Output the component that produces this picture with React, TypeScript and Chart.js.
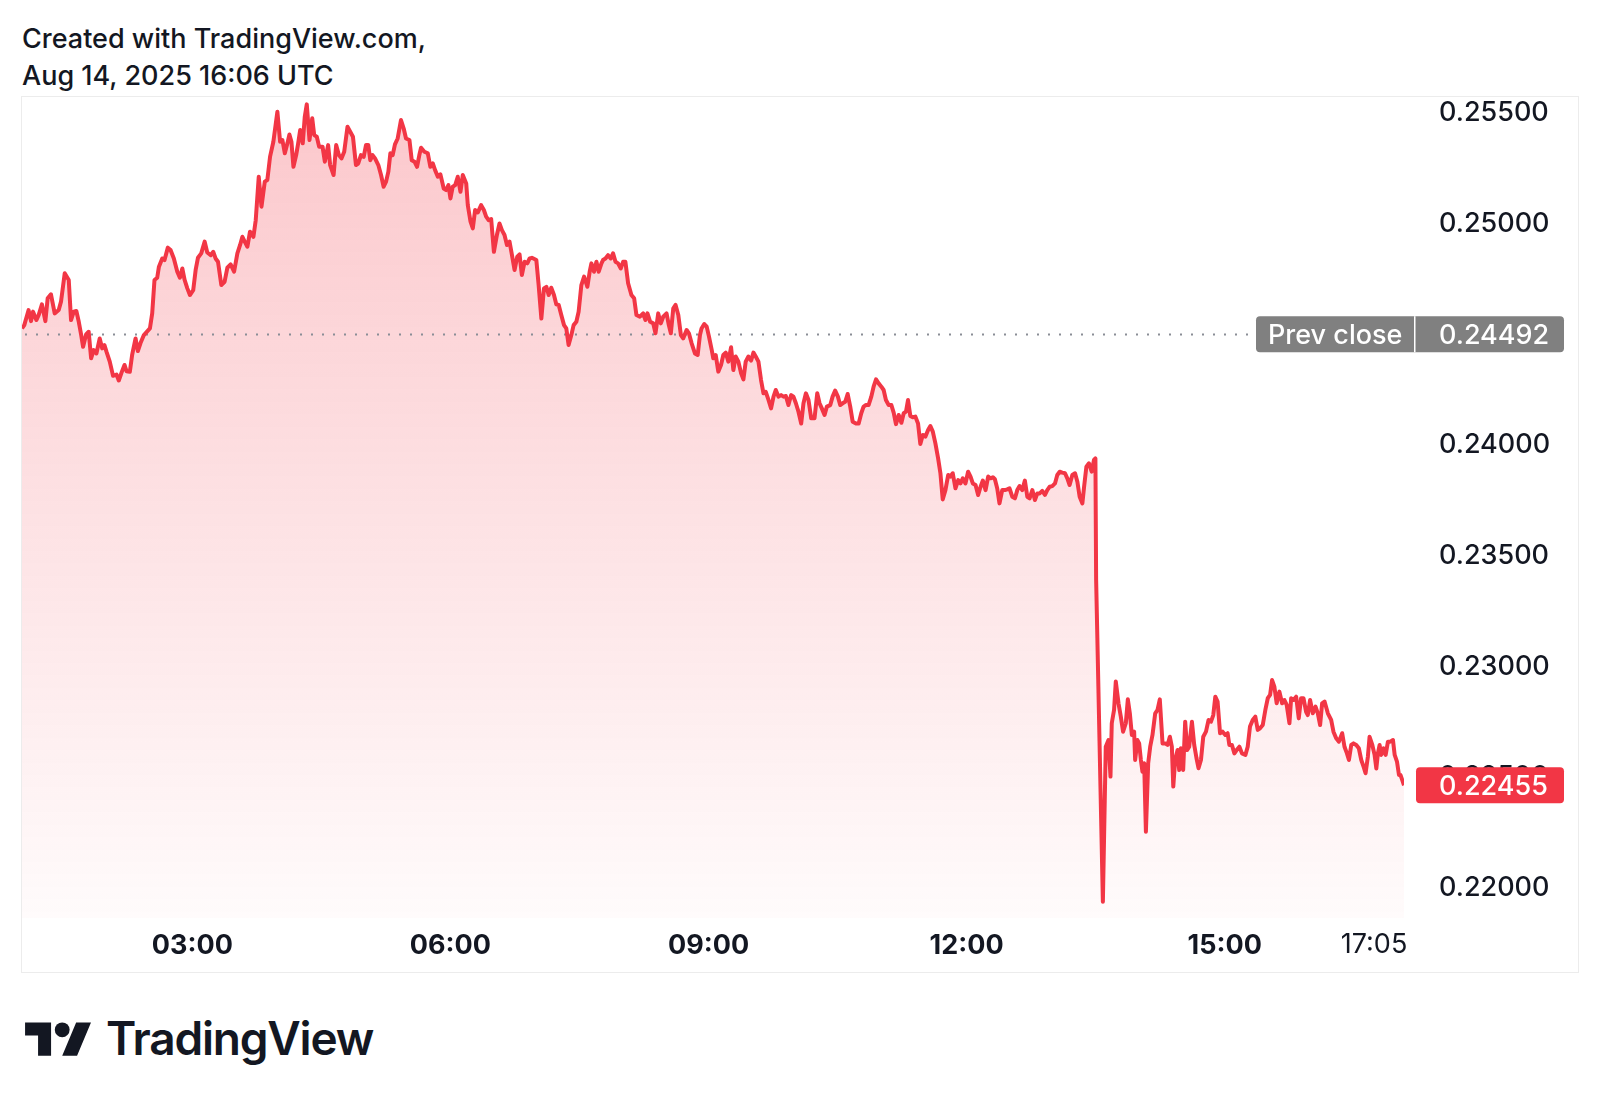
import React, { useEffect, useRef } from "react";
import { Chart, registerables } from "chart.js";

Chart.register(...registerables);

// minutes of the day and prices
const earlyTimes = [61.2,62.8,65.8,67.5,68.9,71.2,72.8,75.1,77.5,79.1,81.4,84.0,86.8,88.4,91.0,93.8,95.4,97.3,99.1,100.8,102.4,103.8,105.9,107.7,109.4,111.2,113.1,115.4,117.1,118.7,120.1,122.4,124.7,127.1,128.7,131.0,132.7,134.1,136.4,138.0,140.4,142.0,143.8,146.2,150.4,152.0,153.6,155.5,156.7,159.0,160.6,162.9,164.8,167.1,169.5,171.3,173.0,174.6,176.5,178.3,180.6,182.3,183.9,186.2,188.6,190.4,192.8,194.6,196.2,197.9,200.2,202.5,204.4,206.7,209.1,211.4,213.3,214.9,216.5,218.4,220.2,222.6,224.2,226.3,228.2,230.5,232.3,234.2,236.5,238.2,239.3,241.2,242.8,244.5,246.3,247.7,249.1,250.5,252.4,253.8,255.2,257.0,258.4,259.8,261.7,263.6,265.0,266.8,268.4,270.8,272.4,274.7,276.1,278.5,280.3,282.2,284.0,285.9,288.2,290.1,292.0,294.1,295.7,297.6];
const earlyPrices = [0.24518,0.24533,0.24601,0.24551,0.24594,0.24556,0.24578,0.24627,0.24551,0.24654,0.24672,0.24586,0.24601,0.24639,0.24767,0.24737,0.24556,0.24594,0.24597,0.24548,0.24491,0.24435,0.24491,0.24503,0.24383,0.24420,0.24405,0.24473,0.24428,0.24443,0.24413,0.24368,0.24304,0.24310,0.24283,0.24325,0.24353,0.24325,0.24322,0.24398,0.24473,0.24416,0.24451,0.24488,0.24518,0.24586,0.24737,0.24747,0.24797,0.24834,0.24827,0.24883,0.24872,0.24834,0.24774,0.24747,0.24789,0.24737,0.24699,0.24669,0.24691,0.24782,0.24837,0.24857,0.24910,0.24861,0.24849,0.24864,0.24834,0.24819,0.24714,0.24729,0.24792,0.24807,0.24774,0.24857,0.24895,0.24932,0.24910,0.24887,0.24955,0.24932,0.25007,0.25203,0.25068,0.25181,0.25188,0.25294,0.25361,0.25444,0.25497,0.25361,0.25369,0.25309,0.25354,0.25394,0.25361,0.25248,0.25301,0.25354,0.25414,0.25354,0.25474,0.25530,0.25369,0.25467,0.25391,0.25384,0.25339,0.25339,0.25271,0.25346,0.25256,0.25211,0.25346,0.25301,0.25286,0.25316,0.25429,0.25406,0.25384,0.25256,0.25263,0.25301];

const morningTimes = [299.5,301.1,302.7,304.1,305.7,307.4,309.7,311.6,313.4,315.1,316.7,318.1,319.7,321.3,323.2,325.5,327.4,329.0,331.4,333.0,334.9,336.7,338.3,339.5,341.8,344.2,346.0,347.7,349.3,351.2,353.0,355.3,357.0,358.6,360.0,361.6,363.3,365.1,367.0,368.6,371.0,372.1,374.0,375.6,377.2,379.1,381.4,383.3,384.9,386.6,388.4,390.3,392.4,394.2,395.9,397.7,399.4,401.2,402.9,404.7,406.6,408.2,409.8,411.7,413.6,415.2,416.8,419.9,421.5,423.4,425.2,426.9,428.5,430.3,432.2,433.8,435.5,437.3,439.2,440.8,442.4,444.3,445.9,447.8,449.4,451.3,453.2,455.5,457.1,458.3,460.1,461.8,463.4,465.3,466.4,468.1,469.9,471.8,473.4,475.1,476.9,478.8,480.4,482.0,483.9,486.2,488.1,489.7,492.1,494.4,496.0,497.4,499.3,501.4,503.0,504.9,506.7,508.4,510.7,512.3,513.7,515.4,517.0,518.9,520.7,522.3,524.7,526.3,528.2,530.5,532.4,534.0,535.1];
const morningPrices = [0.25293,0.25346,0.25346,0.25278,0.25301,0.25286,0.25256,0.25211,0.25158,0.25181,0.25226,0.25309,0.25301,0.25349,0.25376,0.25459,0.25421,0.25376,0.25369,0.25278,0.25271,0.25248,0.25301,0.25334,0.25316,0.25309,0.25248,0.25263,0.25233,0.25203,0.25214,0.25150,0.25143,0.25165,0.25105,0.25158,0.25165,0.25203,0.25135,0.25211,0.25173,0.25075,0.25000,0.24970,0.25053,0.25042,0.25075,0.25053,0.25023,0.25007,0.25012,0.24864,0.24940,0.24992,0.24962,0.24940,0.24895,0.24910,0.24849,0.24782,0.24842,0.24852,0.24759,0.24819,0.24812,0.24834,0.24837,0.24827,0.24714,0.24563,0.24699,0.24706,0.24669,0.24702,0.24669,0.24627,0.24624,0.24579,0.24533,0.24518,0.24443,0.24488,0.24533,0.24548,0.24594,0.24714,0.24752,0.24706,0.24774,0.24812,0.24774,0.24819,0.24774,0.24812,0.24827,0.24834,0.24849,0.24834,0.24857,0.24819,0.24812,0.24789,0.24819,0.24819,0.24722,0.24669,0.24654,0.24579,0.24571,0.24586,0.24556,0.24586,0.24548,0.24541,0.24496,0.24586,0.24541,0.24571,0.24586,0.24533,0.24496,0.24609,0.24624,0.24579,0.24488,0.24473,0.24511,0.24496,0.24451,0.24405,0.24398,0.24488,0.24518];

const middayTimes = [537.0,538.7,540.3,542.2,543.3,545.0,546.8,548.7,550.3,552.0,553.8,555.7,557.3,558.9,560.8,562.7,564.3,565.9,567.8,569.7,571.3,572.9,574.8,576.6,578.3,579.9,581.8,583.6,585.3,586.9,588.8,590.6,592.3,593.9,595.7,597.6,599.2,600.9,602.7,604.6,606.2,607.9,609.7,611.6,613.9,615.8,617.4,619.0,620.9,622.5,624.9,626.5,628.3,630.2,631.8,633.5,635.3,637.0,638.8,640.5,642.8,644.7,646.5,648.1,649.8,651.6,653.5,655.1,656.8,658.6,660.5,662.1,663.7,665.6,667.5,669.1,670.7,672.6,674.5,676.1,677.7,679.1,680.7,682.4,684.2,686.1,687.7,689.4,691.2,693.1,694.7,696.4,698.2,700.1,701.7,703.3,705.2,707.1,708.7,710.3,712.2,714.1,715.7,717.3,719.2,721.0,722.7,724.3,726.2,728.0,729.7,731.3,733.2,735.0,736.6,738.3,739.7,741.3,742.9,744.8,746.7,748.3,749.9,751.8,753.7,755.3,756.9,758.8,760.6,762.3,763.9,765.8,767.6,769.3,770.9,772.7,774.6,776.2,777.9,779.7,781.6,783.2,784.9,786.7,788.6,790.2,791.8,793.7,795.6,797.2,798.8,800.7,801.9,803.5,805.3,807.2,808.8,809.8,810.3];
const middayPrices = [0.24538,0.24526,0.24481,0.24421,0.24383,0.24398,0.24323,0.24353,0.24398,0.24409,0.24368,0.24433,0.24330,0.24391,0.24368,0.24315,0.24288,0.24368,0.24391,0.24373,0.24409,0.24391,0.24368,0.24285,0.24225,0.24232,0.24195,0.24157,0.24210,0.24240,0.24210,0.24217,0.24210,0.24213,0.24172,0.24217,0.24210,0.24180,0.24142,0.24089,0.24180,0.24225,0.24195,0.24112,0.24112,0.24225,0.24180,0.24157,0.24127,0.24165,0.24172,0.24210,0.24237,0.24210,0.24172,0.24180,0.24187,0.24222,0.24165,0.24097,0.24089,0.24089,0.24135,0.24165,0.24172,0.24172,0.24210,0.24255,0.24288,0.24270,0.24255,0.24240,0.24195,0.24172,0.24172,0.24138,0.24086,0.24127,0.24092,0.24135,0.24142,0.24195,0.24123,0.24117,0.24120,0.24089,0.23996,0.24037,0.24029,0.24059,0.24077,0.24052,0.23999,0.23931,0.23864,0.23746,0.23788,0.23856,0.23849,0.23864,0.23796,0.23833,0.23818,0.23841,0.23818,0.23871,0.23849,0.23818,0.23811,0.23766,0.23803,0.23831,0.23788,0.23849,0.23841,0.23846,0.23837,0.23796,0.23728,0.23788,0.23788,0.23791,0.23796,0.23758,0.23751,0.23788,0.23806,0.23788,0.23831,0.23758,0.23751,0.23788,0.23743,0.23773,0.23773,0.23784,0.23766,0.23788,0.23803,0.23806,0.23818,0.23856,0.23871,0.23867,0.23864,0.23841,0.23811,0.23856,0.23864,0.23826,0.23758,0.23728,0.23803,0.23894,0.23909,0.23871,0.23924,0.23931,0.23382];

const afternoonTimes = [815.0,817.0,818.9,820.3,821.2,822.8,824.0,825.9,827.5,829.1,831.0,832.4,833.8,835.2,836.8,837.5,839.1,840.3,841.5,842.6,843.8,845.0,846.6,848.0,849.6,851.5,853.1,854.7,856.6,858.5,860.1,861.7,863.1,864.1,865.4,867.1,868.2,869.4,871.0,872.4,873.8,875.2,877.1,878.7,880.3,881.7,883.4,885.0,886.9,888.7,890.4,892.0,893.4,895.0,896.7,898.5,900.4,902.0,903.2,905.0,906.7,908.3,910.2,912.0,914.4,916.0,917.6,919.5,921.3,923.0,924.6,926.5,928.3,930.0,931.6,933.0,934.6,936.2,938.1,940.0,941.6,943.2,945.1,946.3,947.9,949.8,951.6,953.2,954.9,956.7,957.9,959.5,961.4,963.3,964.9,966.5,967.9,969.6,971.9,974.2,975.8,977.7,979.6,981.9,983.5,985.2,986.6,988.2,989.8,991.7,993.5,995.2,996.8,998.2,999.8,1001.0,1002.9,1004.5,1005.7,1006.8,1008.0,1009.1,1010.8,1012.2,1013.8,1015.4,1017.3,1018.5,1020.1,1021.5,1022.6,1023.8,1025.0];
const afternoonPrices = [0.21929,0.22629,0.22659,0.22494,0.22735,0.22795,0.22923,0.22825,0.22765,0.22697,0.22735,0.22843,0.22780,0.22682,0.22697,0.22569,0.22659,0.22644,0.22569,0.22516,0.22554,0.22245,0.22554,0.22629,0.22682,0.22780,0.22795,0.22843,0.22644,0.22644,0.22637,0.22674,0.22629,0.22449,0.22569,0.22614,0.22524,0.22622,0.22524,0.22742,0.22614,0.22629,0.22742,0.22637,0.22577,0.22532,0.22569,0.22674,0.22697,0.22750,0.22742,0.22772,0.22855,0.22833,0.22690,0.22697,0.22682,0.22690,0.22637,0.22637,0.22599,0.22614,0.22629,0.22599,0.22592,0.22629,0.22720,0.22750,0.22765,0.22705,0.22712,0.22727,0.22795,0.22848,0.22863,0.22930,0.22900,0.22825,0.22878,0.22825,0.22840,0.22818,0.22735,0.22848,0.22840,0.22855,0.22757,0.22848,0.22848,0.22787,0.22772,0.22840,0.22780,0.22810,0.22780,0.22727,0.22825,0.22833,0.22780,0.22750,0.22697,0.22667,0.22652,0.22690,0.22629,0.22599,0.22569,0.22637,0.22644,0.22637,0.22622,0.22569,0.22539,0.22509,0.22584,0.22674,0.22637,0.22592,0.22531,0.22599,0.22637,0.22592,0.22622,0.22592,0.22652,0.22652,0.22659,0.22592,0.22562,0.22501,0.22501,0.22478,0.22455];

const timeTicks = [180, 360, 540, 720, 900];
const lastTime = 1025;
const lastTimeLabel = "17:05";
const priceTicks = [0.22, 0.225, 0.23, 0.235, 0.24, 0.245, 0.25, 0.255];
const prevClose = 0.24492;
const lastPrice = 0.22455;
const prevCloseLabel = "Prev close";
const headerLine1 = "Created with TradingView.com,";
const headerLine2 = "Aug 14, 2025 16:06 UTC";

const allTimes = [...earlyTimes, ...morningTimes, ...middayTimes, ...afternoonTimes];
const allPrices = [...earlyPrices, ...morningPrices, ...middayPrices, ...afternoonPrices];

const FONT = "Inter, 'Noto Sans', sans-serif";
const RED = "#F23645";

function fmtTime(m: number): string {
  const h = Math.floor(m / 60);
  const mm = Math.round(m - h * 60);
  return String(h).padStart(2, "0") + ":" + String(mm).padStart(2, "0");
}

const overlayPlugin = {
  id: "tvOverlay",
  beforeDatasetsDraw(chart: any) {
    const { ctx, chartArea, scales } = chart;
    const y = Math.round(scales.y.getPixelForValue(prevClose)) + 0.5;
    const boxLeft = chartArea.right + 12 - 160;
    ctx.save();
    ctx.strokeStyle = "#8a8d96";
    ctx.lineWidth = 2;
    ctx.setLineDash([2, 9]);
    ctx.beginPath();
    ctx.moveTo(chartArea.left + 3, y);
    ctx.lineTo(boxLeft - 4, y);
    ctx.stroke();
    ctx.restore();
  },
  afterDraw(chart: any) {
    const { ctx, chartArea, scales } = chart;
    const right = chart.width - 14;
    const vLeft = chartArea.right + 12;
    const textX = scales.y.left + 35;
    const h = 36;
    ctx.save();
    const yp = scales.y.getPixelForValue(prevClose);
    ctx.fillStyle = "#808080";
    ctx.beginPath();
    ctx.roundRect(vLeft - 160, yp - h / 2, right - (vLeft - 160), h, 4);
    ctx.fill();
    ctx.fillStyle = "#ffffff";
    ctx.fillRect(vLeft - 2, yp - h / 2, 1.5, h);
    ctx.font = `500 27px ${FONT}`;
    ctx.textBaseline = "middle";
    ctx.textAlign = "left";
    ctx.fillText(prevCloseLabel, vLeft - 148, yp + 2);
    ctx.fillText(prevClose.toFixed(5), textX, yp + 2);
    const yl = scales.y.getPixelForValue(lastPrice);
    ctx.fillStyle = RED;
    ctx.beginPath();
    ctx.roundRect(vLeft, yl - h / 2, right - vLeft, h, 4);
    ctx.fill();
    ctx.fillStyle = "#ffffff";
    ctx.fillText(lastPrice.toFixed(5), textX, yl + 2);
    ctx.fillStyle = "#131722";
    ctx.font = `400 27px ${FONT}`;
    ctx.textAlign = "center";
    ctx.fillText(lastTimeLabel, scales.x.getPixelForValue(lastTime) - 30, scales.x.top + 27);
    ctx.restore();
  },
};

export default function App() {
  const canvasRef = useRef<HTMLCanvasElement | null>(null);

  useEffect(() => {
    if (!canvasRef.current) return;
    const chart = new Chart(canvasRef.current, {
      type: "line",
      data: {
        datasets: [
          {
            data: allTimes.map((t, i) => ({ x: t, y: allPrices[i] })),
            borderColor: RED,
            borderWidth: 4,
            borderJoinStyle: "round",
            pointRadius: 0,
            tension: 0,
            fill: "start",
            backgroundColor: (c: any) => {
              const area = c.chart.chartArea;
              if (!area) return "rgba(242,54,69,0.2)";
              const g = c.chart.ctx.createLinearGradient(0, area.top, 0, area.bottom);
              g.addColorStop(0, "rgba(242,54,69,0.28)");
              g.addColorStop(1, "rgba(242,54,69,0.02)");
              return g;
            },
          },
        ],
      },
      options: {
        responsive: false,
        animation: false,
        devicePixelRatio: 1,
        layout: { padding: 0 },
        plugins: {
          legend: { display: false },
          tooltip: { enabled: false },
          filler: { drawTime: "beforeDatasetsDraw" },
        },
        scales: {
          x: {
            type: "linear",
            min: 61.2,
            max: lastTime,
            grid: { display: false },
            border: { display: false },
            afterBuildTicks: (s: any) => {
              s.ticks = timeTicks.map((v) => ({ value: v }));
            },
            afterFit: (s: any) => {
              s.height = 54;
              s.paddingLeft = 0;
              s.paddingRight = 0;
              s.paddingTop = 0;
              s.paddingBottom = 0;
            },
            ticks: {
              autoSkip: false,
              maxRotation: 0,
              padding: 4,
              color: "#131722",
              font: { family: FONT, size: 27, weight: 700 },
              callback: (v: any) => fmtTime(Number(v)),
            },
          },
          y: {
            position: "right",
            min: 0.2185548,
            max: 0.2556323,
            grid: { display: false, drawTicks: false },
            border: { display: false },
            afterBuildTicks: (s: any) => {
              s.ticks = priceTicks.map((v) => ({ value: v }));
            },
            afterFit: (s: any) => {
              s.width = 174;
              s.paddingTop = 0;
              s.paddingBottom = 0;
              s.paddingLeft = 0;
              s.paddingRight = 0;
            },
            ticks: {
              padding: 35,
              labelOffset: 2,
              color: "#131722",
              font: { family: FONT, size: 27, weight: 500 },
              callback: (v: any) => Number(v).toFixed(5),
            },
          },
        },
      },
      plugins: [overlayPlugin],
    } as any);
    return () => chart.destroy();
  }, []);

  return (
    <div
      style={{
        position: "absolute",
        left: 0,
        top: 0,
        width: 1600,
        height: 1105,
        background: "#ffffff",
        overflow: "hidden",
        fontFamily: FONT,
        color: "#131722",
      }}
    >
      <div style={{ position: "absolute", left: 22, top: 20, fontSize: 27, lineHeight: "37px", fontWeight: 500, whiteSpace: "nowrap" }}>
        <div>{headerLine1}</div>
        <div>{headerLine2}</div>
      </div>
      <div
        style={{
          position: "absolute",
          left: 21,
          top: 96,
          width: 1556,
          height: 875,
          border: "1px solid #ececec",
        }}
      />
      <canvas
        ref={canvasRef}
        width={1556}
        height={875}
        style={{ position: "absolute", left: 22, top: 97, width: 1556, height: 875 }}
      />
      <svg
        style={{ position: "absolute", left: 25, top: 1015 }}
        width={67}
        height={52}
        viewBox="0 0 36 28"
      >
        <path d="M14 22H7V11H0V4h14v18zM28 22h-8l7.5-18h8L28 22z" fill="#131722" />
        <circle cx="20" cy="8" r="4" fill="#131722" />
      </svg>
      <div
        style={{
          position: "absolute",
          left: 106,
          top: 1015,
          fontSize: 46,
          lineHeight: "47px",
          fontWeight: 600,
          letterSpacing: -1.2,
          whiteSpace: "nowrap",
        }}
      >
        TradingView
      </div>
    </div>
  );
}
